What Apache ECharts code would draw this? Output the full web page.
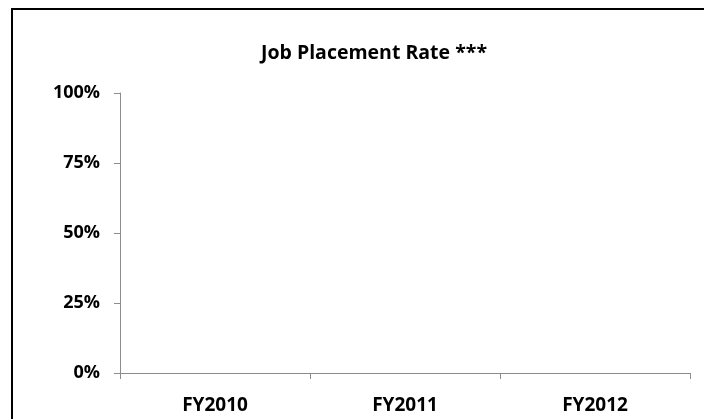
<!DOCTYPE html>
<html><head><meta charset="utf-8">
<script src="https://cdn.jsdelivr.net/npm/echarts@6/dist/echarts.min.js"></script>
<style>
html,body{margin:0;padding:0;background:#fff;overflow:hidden}
#frame{position:absolute;left:11px;top:8px;width:720px;height:440px;border-left:2px solid #000;border-top:2px solid #000;box-sizing:border-box}
#c{position:absolute;left:0;top:0;width:704px;height:419px}
</style></head>
<body>
<div id="frame"></div>
<div id="c"></div>
<script>
const titleText = "Job Placement Rate ***";
const categories = ["FY2010", "FY2011", "FY2012"];
const placementRate = [null, null, null];
const yTicks = [0, 25, 50, 75, 100];

const FONT = "Open Sans";
const chart = echarts.init(document.getElementById('c'), null, {renderer: 'canvas'});
chart.setOption({
  animation: false,
  backgroundColor: 'transparent',
  title: {
    text: titleText, left: 369, top: 38, textAlign: 'center',
    textStyle: {fontFamily: FONT, fontWeight: 'bold', fontSize: 19.5, color: '#000'}
  },
  grid: {left: 120, right: 14, top: 93, bottom: 46},
  xAxis: {
    type: 'category', data: categories,
    axisLine: {lineStyle: {color: '#8c8c8c', width: 1}},
    axisTick: {show: true, length: 6, inside: false, lineStyle: {color: '#8c8c8c'}},
    axisLabel: {fontFamily: FONT, fontWeight: 'bold', fontSize: 19, color: '#000', margin: 23}
  },
  yAxis: {
    type: 'value', min: yTicks[0], max: yTicks[yTicks.length-1], interval: 25,
    axisLine: {show: true, lineStyle: {color: '#8c8c8c', width: 1}},
    axisTick: {show: true, length: 6, lineStyle: {color: '#8c8c8c'}},
    splitLine: {show: false},
    axisLabel: {fontFamily: FONT, fontWeight: 'bold', fontSize: 18, color: '#000', margin: 20,
      formatter: v => v + '%'}
  },
  series: [{type: 'bar', data: placementRate, itemStyle: {color: '#4f81bd'}}]
});
</script>
</body></html>
